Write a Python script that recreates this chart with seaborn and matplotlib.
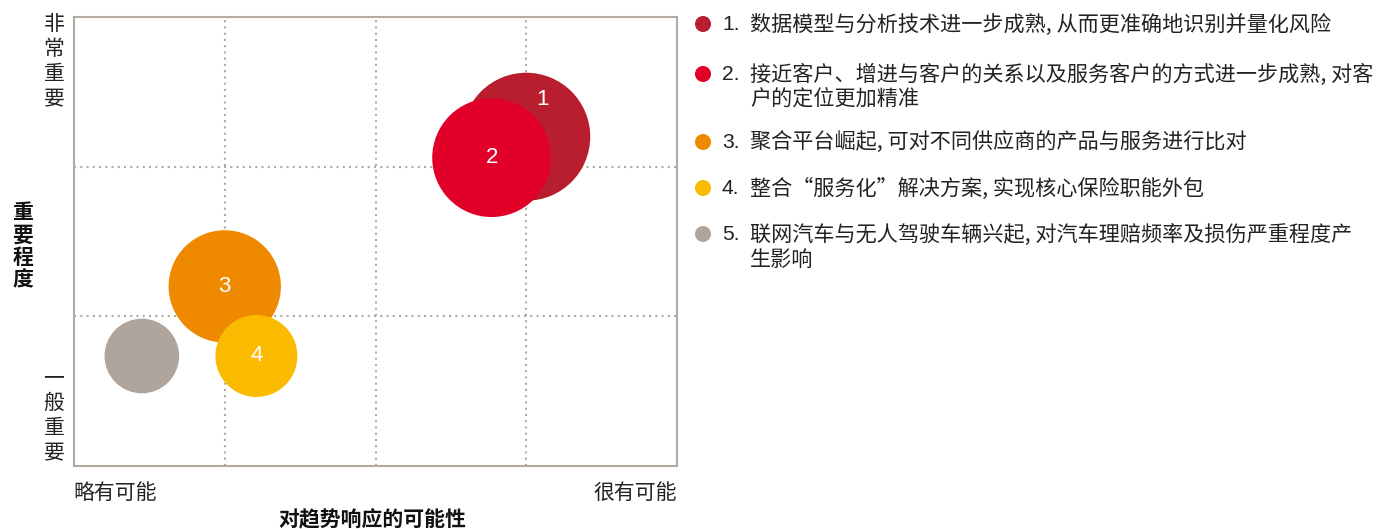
import pandas as pd
import seaborn as sns
import matplotlib.pyplot as plt

# 数据
ids = ["1", "2", "3", "4", "5"]
likelihood = [3.0, 2.77, 1.0, 1.21, 0.45]       # 对趋势响应的可能性 (0-4)
importance = [2.2, 2.06, 1.2, 0.735, 0.735]      # 重要程度 (0-3)
bubble = [100, 86, 77, 41, 34]                   # 气泡面积 (相对)
colors = ["#B81E2D", "#E10027", "#EF8A00", "#FBBB00", "#AFA59C"]
legend_texts = [
    "数据模型与分析技术进一步成熟, 从而更准确地识别并量化风险",
    "接近客户、增进与客户的关系以及服务客户的方式进一步成熟, 对客\n户的定位更加精准",
    "聚合平台崛起, 可对不同供应商的产品与服务进行比对",
    "整合“服务化”解决方案, 实现核心保险职能外包",
    "联网汽车与无人驾驶车辆兴起, 对汽车理赔频率及损伤严重程度产\n生影响",
]
y_top_label = "非常重要"
y_bottom_label = "一般重要"
y_title = "重要程度"
x_left_label = "略有可能"
x_right_label = "很有可能"
x_title = "对趋势响应的可能性"

df = pd.DataFrame({"id": ids, "x": likelihood, "y": importance, "size": bubble})

sns.set_style("white")
plt.rcParams["font.family"] = ["Noto Sans CJK SC", "DejaVu Sans"]

W, H = 1380, 529
fig = plt.figure(figsize=(W / 100, H / 100), dpi=100)
ax = fig.add_axes([74 / W, 1 - 466 / H, 603 / W, 449 / H])

grid_col = "#B3AAA2"
for v in [1, 2, 3]:
    ax.axvline(v, color=grid_col, lw=1.5, ls=(0, (1, 2)), zorder=0)
for v in [1, 2]:
    ax.axhline(v, color=grid_col, lw=1.5, ls=(0, (1, 2)), zorder=0)

sns.scatterplot(data=df, x="x", y="y", hue="id", palette=colors,
                size="size", sizes=(0, 8493), size_norm=(0, 100),
                linewidth=0, alpha=1, legend=False, ax=ax, zorder=2)

label_offsets = {"1": (11.5, 26.5), "2": (0, 0), "3": (0, 0), "4": (0, 0)}
for i, x, y in zip(ids, likelihood, importance):
    if i in label_offsets:
        ax.annotate(i, (x, y), xytext=label_offsets[i], textcoords="offset points",
                    ha="center", va="center", color="white", fontsize=16,
                    family="Liberation Sans", zorder=3)

ax.set_xlim(0, 4)
ax.set_ylim(0, 3)
ax.set_xticks([])
ax.set_yticks([])
ax.set_xlabel("")
ax.set_ylabel("")
for s in ax.spines.values():
    s.set_color(grid_col)
    s.set_linewidth(1.5)

# 叠加层, 像素坐标
ov = fig.add_axes([0, 0, 1, 1], zorder=-1)
ov.set_xlim(0, W)
ov.set_ylim(H, 0)
ov.axis("off")

fs = 15
for k, ch in enumerate(y_top_label):
    ov.text(54, 24 + k * 25, ch, ha="center", va="center", fontsize=fs, color="#222222")
for k, ch in enumerate(y_bottom_label):
    ov.text(54, 378 + k * 25, ch, ha="center", va="center", fontsize=fs, color="#222222")
for k, ch in enumerate(y_title):
    ov.text(23, 212 + k * 22.7, ch, ha="center", va="center", fontsize=fs,
            fontweight="bold", color="#111111")

ov.text(73, 493, x_left_label, ha="left", va="center", fontsize=fs, color="#222222")
ov.text(677, 493, x_right_label, ha="right", va="center", fontsize=fs, color="#222222")
ov.text(372, 520, x_title, ha="center", va="center", fontsize=fs,
        fontweight="bold", color="#111111")

lfs = 15.2
row_y = [24, 74, 142, 188, 234]
ov.scatter([703] * 5, row_y, c=colors, s=133, linewidths=0)
for i, y, t in zip(ids, row_y, legend_texts):
    ov.text(722, y, i + ".", ha="left", va="center", fontsize=lfs, color="#222222",
            family="Liberation Sans")
    ov.text(750, y - 10.5, t, ha="left", va="top", fontsize=lfs, color="#222222",
            linespacing=1.17)

fig.savefig("out.png", dpi=100)
